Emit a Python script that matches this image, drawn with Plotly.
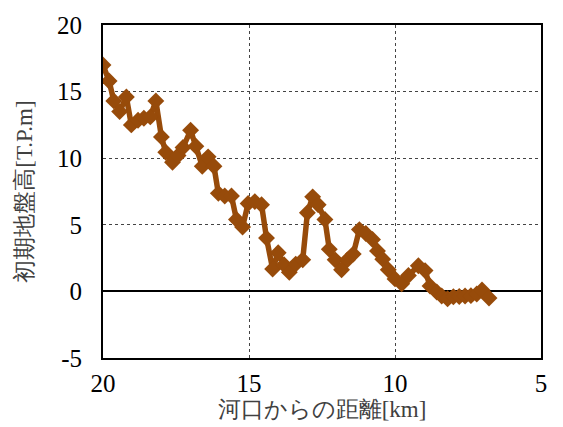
import plotly.graph_objects as go

# Distance from river mouth [km] and initial ground elevation [T.P. m]
distance_km = [20.0, 19.79, 19.63, 19.43, 19.2, 19.03, 18.8, 18.6, 18.38, 18.19,
               18.0, 17.85, 17.62, 17.43, 17.26, 17.0, 16.82, 16.6, 16.4, 16.2,
               16.05, 15.83, 15.6, 15.43, 15.22, 15.03, 14.8, 14.57, 14.4, 14.19,
               14.0, 13.8, 13.62, 13.4, 13.16, 13.0, 12.82, 12.63, 12.4, 12.25,
               12.05, 11.83, 11.63, 11.43, 11.22, 11.0, 10.77, 10.6, 10.42, 10.23,
               10.0, 9.77, 9.54, 9.2, 8.97, 8.8, 8.57, 8.4, 8.2, 8.0,
               7.8, 7.6, 7.4, 7.2, 7.02, 6.78]
elevation_m = [17.0, 15.8, 14.3, 13.5, 14.6, 12.5, 12.85, 13.0, 13.1, 14.3,
               11.6, 10.45, 9.7, 10.2, 10.8, 12.1, 10.9, 9.4, 10.1, 9.4,
               7.36, 7.16, 7.16, 5.4, 4.84, 6.6, 6.74, 6.5, 4.0, 1.68,
               2.9, 2.0, 1.43, 2.05, 2.37, 5.9, 7.1, 6.5, 5.4, 3.16,
               2.37, 1.63, 2.37, 2.8, 4.64, 4.35, 3.9, 3.04, 2.42, 1.63,
               0.94, 0.57, 1.19, 1.93, 1.56, 0.4, -0.05, -0.35, -0.55, -0.4,
               -0.38, -0.35, -0.32, -0.2, 0.1, -0.5]

x_ticks = [20, 15, 10, 5]
y_ticks = [-5, 0, 5, 10, 15, 20]

brown = "#974B0A"
serif = "Times New Roman, Liberation Serif, serif"

fig = go.Figure(
    go.Scatter(
        x=distance_km,
        y=elevation_m,
        mode="lines+markers",
        line=dict(color=brown, width=5.5),
        marker=dict(symbol="diamond", size=13, color=brown),
        showlegend=False,
    )
)

axis_common = dict(
    showline=True,
    linecolor="black",
    linewidth=2,
    mirror=True,
    ticks="",
    showgrid=True,
    gridcolor="#444444",
    griddash="dot",
    gridwidth=1,
    tickfont=dict(family=serif, size=25, color="black"),
)

fig.update_xaxes(
    range=[20, 5],
    tickvals=x_ticks,
    ticktext=[str(v) for v in x_ticks],
    zeroline=False,
    ticklabelstandoff=2,
    title=dict(text="河口からの距離[km]", font=dict(family=serif, size=23, color="#404040"),
               standoff=2),
    **axis_common,
)
fig.update_yaxes(
    range=[-5, 20],
    tickvals=y_ticks,
    ticktext=[str(v) for v in y_ticks],
    zeroline=True,
    zerolinecolor="black",
    zerolinewidth=2,
    ticklabelstandoff=14,
    title=dict(text="初期地盤高[T.P.m]", font=dict(family=serif, size=23, color="#404040"),
               standoff=18),
    **axis_common,
)

fig.update_layout(
    width=563,
    height=427,
    margin=dict(l=103, r=22, t=23, b=67),
    paper_bgcolor="white",
    plot_bgcolor="white",
)

fig.write_html("out.html")
